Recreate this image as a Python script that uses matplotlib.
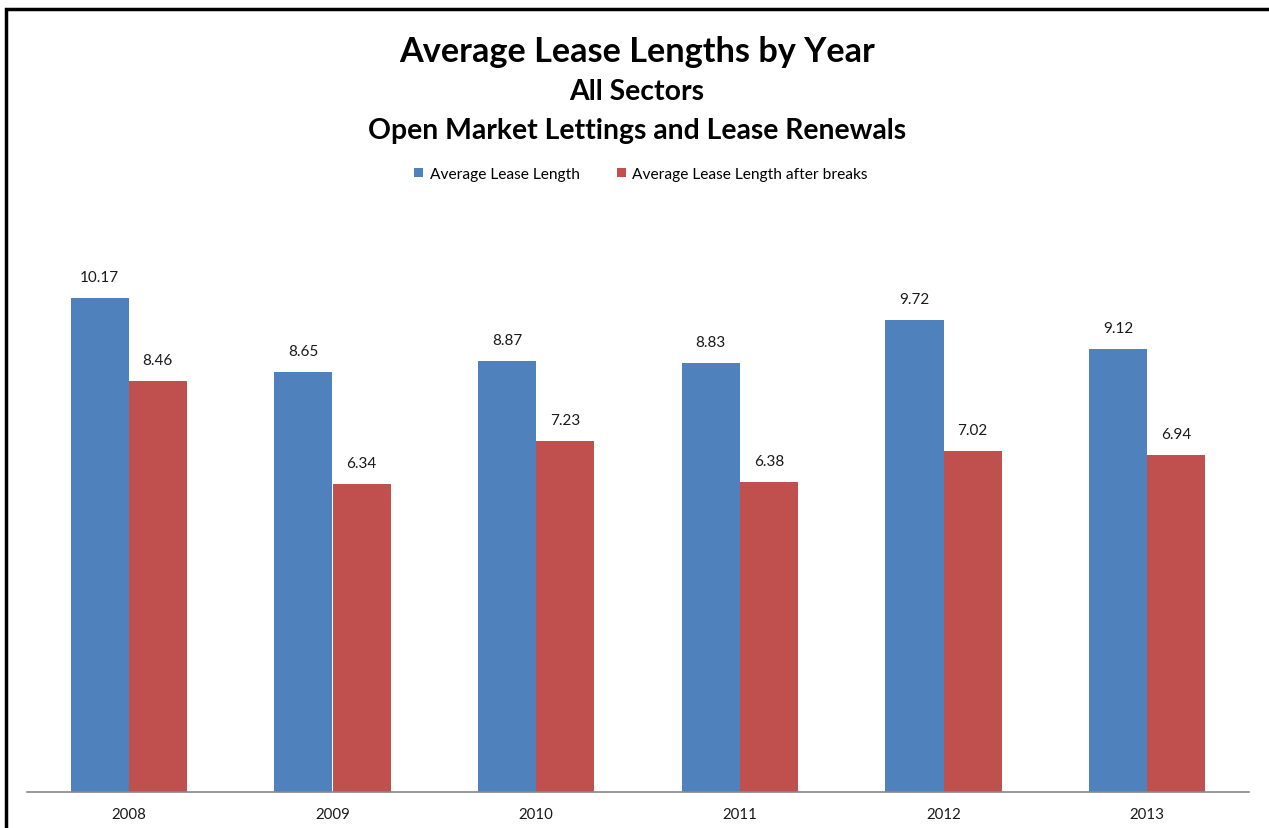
import matplotlib
matplotlib.use("Agg")
import matplotlib.pyplot as plt
from matplotlib.patches import Rectangle
import numpy as np

years = ["2008", "2009", "2010", "2011", "2012", "2013"]
avg_lease = [10.17, 8.65, 8.87, 8.83, 9.72, 9.12]
avg_after_breaks = [8.46, 6.34, 7.23, 6.38, 7.02, 6.94]
series_names = ["Average Lease Length", "Average Lease Length after breaks"]

plt.rcParams["font.family"] = ["Lato", "DejaVu Sans"]

W, H = 1269, 829
fig = plt.figure(figsize=(W / 100, H / 100), dpi=100)

# plot area in pixel terms
left, right, bottom, top = 27, 1249, 793, 210
ax = fig.add_axes([left / W, 1 - bottom / H, (right - left) / W, (bottom - top) / H])

x = np.arange(len(years))
barWidth = 0.285
b1 = ax.bar(x - barWidth / 2, avg_lease, width=barWidth, color="#4F81BD", label=series_names[0])
b2 = ax.bar(x + barWidth / 2, avg_after_breaks, width=barWidth, color="#C0504D", label=series_names[1])

for bars, vals in ((b1, avg_lease), (b2, avg_after_breaks)):
    for bar, v in zip(bars, vals):
        ax.annotate(f"{v:.2f}", (bar.get_x() + bar.get_width() / 2, v),
                    xytext=(0, 10), textcoords="offset points",
                    ha="center", va="bottom", fontsize=11, color="#1a1a1a")

ax.set_xlim(-0.5, len(years) - 0.5)
ax.set_ylim(0, 12)
ax.set_xticks(x)
ax.set_xticklabels(years, fontsize=10.8, color="#1a1a1a")
ax.tick_params(axis="x", length=0, pad=11)
ax.set_yticks([])
for s in ("top", "right", "left"):
    ax.spines[s].set_visible(False)
ax.spines["bottom"].set_color("#888888")
ax.spines["bottom"].set_linewidth(1.2)

# titles
fig.text(637 / W, 1 - 52 / H, "Average Lease Lengths by Year", ha="center", va="center",
         fontsize=24.7, fontweight="bold")
fig.text(637 / W, 1 - 92 / H, "All Sectors", ha="center", va="center",
         fontsize=20.4, fontweight="bold")
fig.text(637 / W, 1 - 131 / H, "Open Market Lettings and Lease Renewals", ha="center", va="center",
         fontsize=20.4, fontweight="bold")

fig.legend(handles=[b1, b2], labels=series_names, loc="center", ncol=2,
           bbox_to_anchor=(641 / W, 1 - 175 / H), frameon=False, fontsize=11.2,
           handlelength=0.6, handleheight=0.6, handletextpad=0.4, columnspacing=2.4)

# chart border
fig.patches.append(Rectangle((6 / W, -0.05), (W + 10) / W, 1.05 - 10 / H,
                             transform=fig.transFigure, fill=False,
                             edgecolor="black", linewidth=2.5))

fig.savefig("out.png", dpi=100, facecolor="white")
